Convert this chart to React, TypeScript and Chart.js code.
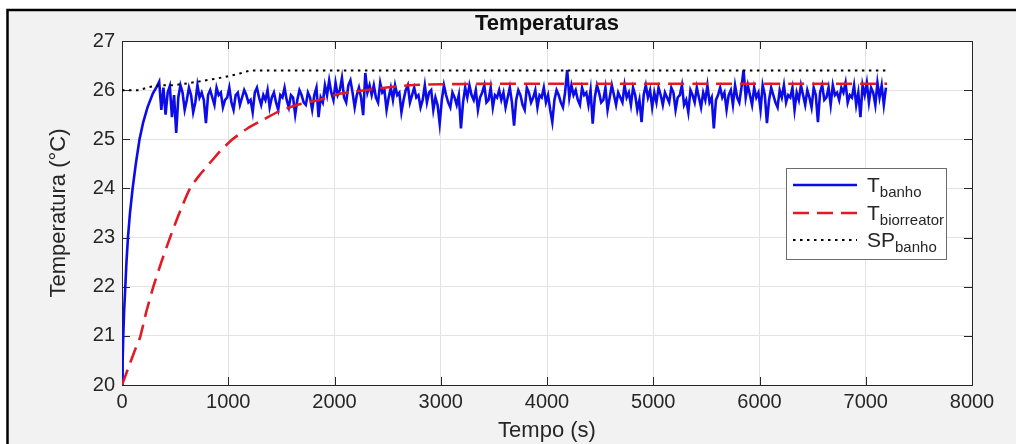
import React, { useEffect, useRef } from 'react';
import { Chart, registerables } from 'chart.js';

Chart.register(...registerables);

const TITLE = 'Temperaturas';
const X_LABEL = 'Tempo (s)';
const Y_LABEL = 'Temperatura (°C)';
const X_TICKS = [0, 1000, 2000, 3000, 4000, 5000, 6000, 7000, 8000];
const Y_TICKS = [20, 21, 22, 23, 24, 25, 26, 27];
const LEGEND_MAIN = ['T', 'T', 'SP'];
const LEGEND_SUB = ['banho', 'biorreator', 'banho'];

// T_banho: initial rise
const bathRiseTime = [0, 6, 12, 20, 31, 42, 56, 75, 100, 130, 165, 200, 240, 290, 330];
const bathRiseTemp = [20, 20.5, 21.0, 21.5, 22.0, 22.5, 23.0, 23.5, 24.0, 24.5, 25.0, 25.35, 25.65, 25.93, 26.08];
// T_banho: noisy regulated part, sampled every 20 s from 350 s
const bathNoiseStart = 350;
const bathNoiseStep = 20;
const bathNoiseTemp = [
  26.17, 25.6, 26.05, 25.5, 25.95, 26.08, 25.45, 25.9, 25.13, 25.85, 26.1, 25.95, 25.6, 25.8, 26.05, 25.9, 25.55, 25.75, 26.1, 25.85,
  25.95, 25.8, 25.33, 25.9, 26.0, 25.85, 25.7, 26.05, 25.9, 25.95, 25.65, 25.8, 25.85, 26.05, 25.75, 25.6, 25.9, 25.95, 25.7, 25.85,
  26.0, 25.9, 25.75, 25.8, 25.55, 25.95, 26.05, 25.85, 25.7, 25.9, 25.8, 26.0, 25.65, 25.85, 25.95, 25.75, 25.6, 25.9, 25.85, 26.05,
  25.8, 25.65, 25.9, 25.85, 25.5, 25.8, 26.0, 25.9, 25.75, 25.7, 25.95, 25.85, 25.6, 25.9, 26.05, 25.45, 25.85, 25.75, 26.1, 25.9,
  26.2, 25.95, 25.8, 26.15, 25.9, 26.0, 26.25, 25.85, 25.75, 26.1, 26.2, 25.95, 25.65, 25.9, 26.05, 25.85, 25.49, 26.35, 25.95, 26.1,
  25.9, 26.1, 25.85, 25.75, 26.15, 25.95, 26.0, 25.6, 25.85, 26.05, 25.8, 26.1, 25.9, 25.95, 25.55, 25.8, 26.0, 26.1, 25.75, 25.9,
  26.05, 25.85, 25.9, 25.65, 25.8, 26.1, 25.75, 25.95, 26.0, 25.6, 25.85, 25.7, 25.32, 25.8, 26.1, 25.9, 25.75, 25.65, 25.95, 25.85,
  25.7, 25.9, 25.22, 25.75, 26.05, 25.85, 26.1, 25.9, 25.8, 26.0, 25.6, 25.85, 25.95, 26.1, 25.75, 25.8, 26.05, 25.65, 25.9, 25.85,
  26.0, 25.8, 25.95, 25.65, 25.85, 26.05, 25.75, 25.28, 25.8, 26.0, 25.9, 25.7, 25.6, 26.05, 25.95, 25.75, 25.85, 26.0, 25.65, 25.9,
  25.85, 26.05, 25.75, 25.9, 25.6, 25.35, 25.8, 26.0, 25.9, 25.75, 25.65, 25.95, 26.41, 25.85, 26.1, 25.9, 26.0, 25.8, 25.7, 26.05,
  25.9, 25.95, 25.7, 26.0, 25.32, 25.85, 26.1, 25.95, 25.75, 25.8, 26.05, 25.6, 25.85, 26.1, 25.9, 25.7, 25.95, 25.85, 25.75, 26.1,
  25.85, 25.95, 25.7, 26.05, 25.9, 25.6, 25.8, 25.35, 25.9, 26.1, 25.85, 26.0, 25.65, 25.95, 25.75, 26.05, 25.9, 25.7, 25.95, 25.85,
  25.75, 26.05, 25.95, 25.6, 25.85, 25.9, 26.1, 25.7, 25.8, 25.55, 26.0, 25.9, 25.75, 26.05, 25.85, 25.65, 25.95, 25.8, 26.1, 25.75,
  25.85, 25.22, 25.8, 25.9, 26.05, 25.85, 25.95, 25.6, 25.9, 26.0, 25.7, 26.1, 25.85, 25.75, 26.05, 26.41, 25.85, 26.1, 25.9, 25.7,
  26.05, 25.85, 25.95, 25.6, 26.1, 25.9, 25.33, 25.8, 26.05, 25.9, 25.75, 25.65, 26.0, 25.85, 26.1, 25.75, 25.9, 25.85, 26.05, 25.6,
  25.95, 25.8, 26.1, 25.9, 25.7, 26.0, 25.85, 25.65, 26.05, 25.9, 25.35, 25.95, 26.1, 25.8, 25.85, 26.05, 25.7, 26.1, 25.9, 25.95,
  25.8, 26.05, 25.95, 26.15, 25.75, 25.9, 25.85, 26.1, 25.7, 25.95, 25.45, 26.1, 25.9, 26.15, 25.75, 26.05, 25.95, 25.7, 26.15, 25.85,
  26.1, 25.7, 26.05,
];

// T_biorreator
const bioTime = [0, 60, 120, 170, 230, 295, 370, 452, 540, 640, 730, 820, 920, 1040, 1180, 1330, 1490, 1680, 1870, 2060, 2400, 2710, 3000, 3500, 4500, 5500, 6500, 7200];
const bioTemp = [20, 20.35, 20.7, 20.97, 21.5, 22.0, 22.5, 23.0, 23.5, 24.0, 24.27, 24.5, 24.75, 25.0, 25.22, 25.4, 25.58, 25.72, 25.81, 25.93, 26.03, 26.1, 26.12, 26.13, 26.13, 26.13, 26.13, 26.13];

// SP_banho
const spTime = [0, 160, 250, 350, 480, 620, 765, 900, 1016, 1110, 1205, 7200];
const spTemp = [26.0, 26.0, 26.06, 26.1, 26.1, 26.14, 26.19, 26.24, 26.29, 26.34, 26.4, 26.4];

const FONT = '"Liberation Sans", Arial, Helvetica, sans-serif';
const BLUE = 'rgb(12,12,232)';
const RED = 'rgb(226,26,36)';
const BLACK = '#000000';
const INK = '#262626';

const bathData = bathRiseTime
  .map((t, i) => ({ x: t, y: bathRiseTemp[i] }))
  .concat(bathNoiseTemp.map((v, i) => ({ x: bathNoiseStart + i * bathNoiseStep, y: v })));
const bioData = bioTime.map((t, i) => ({ x: t, y: bioTemp[i] }));
const spData = spTime.map((t, i) => ({ x: t, y: spTemp[i] }));

const decorPlugin = {
  id: 'decor',
  beforeDraw(chart: any) {
    const { ctx, width, height, chartArea: a } = chart;
    ctx.save();
    ctx.fillStyle = '#ffffff';
    ctx.fillRect(0, 0, width, height);
    ctx.fillStyle = '#f2f2f2';
    ctx.fillRect(7, 10, width - 7, height - 10);
    ctx.strokeStyle = '#000000';
    ctx.lineWidth = 2.5;
    ctx.beginPath();
    ctx.moveTo(7.5, height);
    ctx.lineTo(7.5, 10);
    ctx.lineTo(width, 10);
    ctx.stroke();
    ctx.fillStyle = '#ffffff';
    ctx.fillRect(a.left, a.top, a.right - a.left, a.bottom - a.top);
    ctx.restore();
  },
  beforeDatasetsDraw(chart: any) {
    const { ctx, chartArea: a, scales } = chart;
    const xs = scales.x;
    const ys = scales.y;
    const len = 8;
    ctx.save();
    ctx.strokeStyle = INK;
    ctx.lineWidth = 1;
    ctx.beginPath();
    X_TICKS.forEach((v) => {
      const px = Math.round(xs.getPixelForValue(v)) + 0.5;
      ctx.moveTo(px, a.bottom);
      ctx.lineTo(px, a.bottom - len);
      ctx.moveTo(px, a.top);
      ctx.lineTo(px, a.top + len);
    });
    Y_TICKS.forEach((v) => {
      const py = Math.round(ys.getPixelForValue(v)) + 0.5;
      ctx.moveTo(a.left, py);
      ctx.lineTo(a.left + len, py);
      ctx.moveTo(a.right, py);
      ctx.lineTo(a.right - len, py);
    });
    ctx.stroke();
    ctx.beginPath();
    ctx.moveTo(a.left, a.top + 0.5);
    ctx.lineTo(a.right + 0.5, a.top + 0.5);
    ctx.lineTo(a.right + 0.5, a.bottom);
    ctx.stroke();
    ctx.restore();
  },
  afterDraw(chart: any) {
    const { ctx, chartArea: a } = chart;
    ctx.save();
    // title
    ctx.fillStyle = '#111111';
    ctx.font = `bold 22px ${FONT}`;
    ctx.textAlign = 'center';
    ctx.textBaseline = 'middle';
    ctx.fillText(TITLE, (a.left + a.right) / 2, 24);

    // legend
    const bx = a.right - 186;
    const by = a.top + 127;
    const bw = 160;
    const bh = 91;
    ctx.fillStyle = '#ffffff';
    ctx.fillRect(bx, by, bw, bh);
    ctx.strokeStyle = '#6b6b6b';
    ctx.lineWidth = 1;
    ctx.strokeRect(bx + 0.5, by + 0.5, bw, bh);
    const rows = [17, 45, 72];
    const styles = [
      { color: BLUE, dash: [] as number[], width: 2.5 },
      { color: RED, dash: [16, 8], width: 2.5 },
      { color: BLACK, dash: [2.5, 4.5], width: 2 },
    ];
    rows.forEach((dy, i) => {
      const y = by + dy;
      const st = styles[i];
      ctx.save();
      ctx.strokeStyle = st.color;
      ctx.lineWidth = st.width;
      ctx.setLineDash(st.dash);
      ctx.beginPath();
      ctx.moveTo(bx + 7, y);
      ctx.lineTo(bx + 71, y);
      ctx.stroke();
      ctx.restore();
      ctx.fillStyle = INK;
      ctx.textAlign = 'left';
      ctx.textBaseline = 'alphabetic';
      ctx.font = `21px ${FONT}`;
      const tx = bx + 81;
      ctx.fillText(LEGEND_MAIN[i], tx, y + 7);
      const w = ctx.measureText(LEGEND_MAIN[i]).width;
      ctx.font = `15px ${FONT}`;
      ctx.fillText(LEGEND_SUB[i], tx + w, y + 12);
    });
    ctx.restore();
  },
};

export default function App() {
  const canvasRef = useRef<HTMLCanvasElement | null>(null);

  useEffect(() => {
    const canvas = canvasRef.current;
    if (!canvas) return;
    const chart = new Chart(canvas, {
      type: 'line',
      data: {
        datasets: [
          {
            label: 'T_banho',
            data: bathData,
            borderColor: BLUE,
            borderWidth: 2.6,
            pointRadius: 0,
            tension: 0,
            fill: false,
            order: 3,
          },
          {
            label: 'T_biorreator',
            data: bioData,
            borderColor: RED,
            borderWidth: 2.6,
            borderDash: [16, 8],
            pointRadius: 0,
            tension: 0.2,
            fill: false,
            order: 2,
          },
          {
            label: 'SP_banho',
            data: spData,
            borderColor: BLACK,
            borderWidth: 2,
            borderDash: [2.5, 4.5],
            pointRadius: 0,
            tension: 0,
            fill: false,
            order: 1,
          },
        ],
      },
      options: {
        animation: false,
        responsive: false,
        devicePixelRatio: 1,
        events: [],
        layout: { padding: { left: 0, top: 41, right: 44, bottom: 0 } },
        plugins: {
          legend: { display: false },
          title: { display: false },
          tooltip: { enabled: false },
        },
        scales: {
          x: {
            type: 'linear',
            min: 0,
            max: 8000,
            afterBuildTicks: (s: any) => {
              s.ticks = X_TICKS.map((v) => ({ value: v }));
            },
            afterFit: (s: any) => {
              s.height = 59;
            },
            ticks: {
              callback: (v: any) => String(v),
              font: { family: FONT, size: 20, lineHeight: 1.2 },
              color: INK,
              padding: 5,
              maxRotation: 0,
              autoSkip: false,
            },
            grid: { color: '#e3e3e3', drawTicks: false, lineWidth: 1 },
            border: { display: true, color: INK, width: 1 },
            title: {
              display: true,
              text: X_LABEL,
              font: { family: FONT, size: 22, lineHeight: 1.2 },
              color: INK,
              padding: { top: 0, bottom: 0 },
            },
          },
          y: {
            type: 'linear',
            min: 20,
            max: 27,
            afterBuildTicks: (s: any) => {
              s.ticks = Y_TICKS.map((v) => ({ value: v }));
            },
            afterFit: (s: any) => {
              s.width = 122;
            },
            ticks: {
              callback: (v: any) => String(v),
              font: { family: FONT, size: 20, lineHeight: 1.2 },
              color: INK,
              padding: 7,
              autoSkip: false,
            },
            grid: { color: '#e3e3e3', drawTicks: false, lineWidth: 1 },
            border: { display: true, color: INK, width: 1 },
            title: {
              display: true,
              text: Y_LABEL,
              font: { family: FONT, size: 22, lineHeight: 1.2 },
              color: INK,
              padding: { top: 46, bottom: 0 },
            },
          },
        },
      },
      plugins: [decorPlugin],
    });
    return () => chart.destroy();
  }, []);

  return (
    <div style={{ position: 'fixed', left: 0, top: 0, width: 1016, height: 444 }}>
      <canvas ref={canvasRef} width={1016} height={444} style={{ width: 1016, height: 444, display: 'block' }} />
    </div>
  );
}
